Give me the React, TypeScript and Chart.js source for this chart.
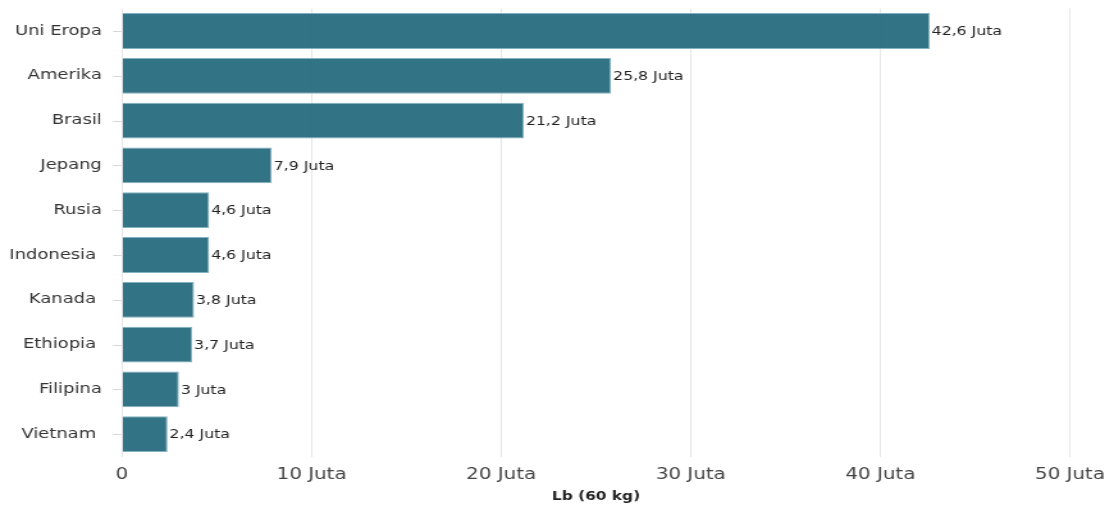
import React, { useEffect, useRef } from "react";
import { Chart, registerables } from "chart.js";

Chart.register(...registerables);

const categories = ["Uni Eropa", "Amerika", "Brasil", "Jepang", "Rusia", "Indonesia ", "Kanada ", "Ethiopia ", "Filipina", "Vietnam "];
const values = [42.6, 25.8, 21.2, 7.9, 4.6, 4.6, 3.8, 3.7, 3.0, 2.4];
const valueLabels = ["42,6 Juta", "25,8 Juta", "21,2 Juta", "7,9 Juta", "4,6 Juta", "4,6 Juta", "3,8 Juta", "3,7 Juta", "3 Juta", "2,4 Juta"];
const xTicks = [0, 10, 20, 30, 40, 50];
const xTickLabels = ["0", "10 Juta", "20 Juta", "30 Juta", "40 Juta", "50 Juta"];
const xTitle = "Lb (60 kg)";

const FONT = "'DejaVu Sans', Verdana, sans-serif";
const CSS_W = 1114;
const CSS_H = 506;
const CANVAS_W = 870; // rendered narrower, then stretched horizontally like the reference
const SX = CSS_W / CANVAS_W;

const valueLabelPlugin = {
  id: "valueLabels",
  afterDatasetsDraw(chart: any) {
    const ctx = chart.ctx;
    const meta = chart.getDatasetMeta(0);
    const yScale = chart.scales.y;
    const left = chart.chartArea.left;
    ctx.save();
    // y-axis tick marks at category centres
    ctx.strokeStyle = "#d6d6d6";
    ctx.lineWidth = 1;
    yScale.ticks.forEach((_t: any, i: number) => {
      const y = Math.round(yScale.getPixelForTick(i)) + 0.5;
      ctx.beginPath();
      ctx.moveTo(left - 7, y);
      ctx.lineTo(left - 0.5, y);
      ctx.stroke();
    });
    ctx.font = "12.3px " + FONT;
    ctx.fillStyle = "#222";
    ctx.textAlign = "left";
    ctx.textBaseline = "middle";
    meta.data.forEach((bar: any, i: number) => {
      ctx.fillText(valueLabels[i], bar.x + 1.5, bar.y + 1);
    });
    ctx.restore();
  },
};

export default function App() {
  const ref = useRef<HTMLCanvasElement | null>(null);
  useEffect(() => {
    if (!ref.current) return;
    const chart = new Chart(ref.current, {
      type: "bar",
      data: {
        labels: categories,
        datasets: [
          {
            data: values,
            backgroundColor: "rgba(38,106,126,0.94)",
            borderColor: "rgba(120,170,185,0.9)",
            borderWidth: 1,
            categoryPercentage: 0.8,
            barPercentage: 1.0,
          },
        ],
      },
      options: {
        indexAxis: "y",
        responsive: false,
        animation: false,
        devicePixelRatio: 1,
        layout: { padding: { top: 8.6, right: CANVAS_W - 1070 / SX, left: 0, bottom: 0 } },
        plugins: {
          legend: { display: false },
          tooltip: { enabled: false },
        },
        scales: {
          x: {
            min: 0,
            max: 50,
            afterBuildTicks: (scale: any) => {
              scale.ticks = xTicks.map((v) => ({ value: v }));
            },
            afterFit: (scale: any) => {
              scale.height = 49.4;
              scale.paddingLeft = 0;
              scale.paddingRight = 0;
            },
            ticks: {
              callback: (v: any) => xTickLabels[xTicks.indexOf(Number(v))] ?? "",
              font: { family: FONT, size: 15.5 },
              color: "#444",
              padding: 8.7,
              maxRotation: 0,
            },
            grid: { color: "#e6e6e6", drawTicks: false, lineWidth: 1 },
            border: { display: false },
            title: {
              display: true,
              text: xTitle,
              font: { family: FONT, size: 12, weight: "bold" },
              color: "#222",
              padding: { top: 5.5, bottom: 1.8 },
            },
          },
          y: {
            afterFit: (scale: any) => {
              scale.width = 122 / SX;
              scale.paddingTop = 0;
              scale.paddingBottom = 0;
            },
            ticks: {
              font: { family: FONT, size: 14 },
              color: "#333",
              padding: 7.8,
            },
            grid: { display: false },
            border: { display: false },
          },
        },
      },
      plugins: [valueLabelPlugin],
    } as any);
    return () => chart.destroy();
  }, []);
  return (
    <div style={{ position: "fixed", left: 0, top: 0, width: CSS_W, height: CSS_H, background: "#fff" }}>
      <canvas ref={ref} width={CANVAS_W} height={CSS_H} style={{ display: "block", width: CSS_W, height: CSS_H }} />
    </div>
  );
}
